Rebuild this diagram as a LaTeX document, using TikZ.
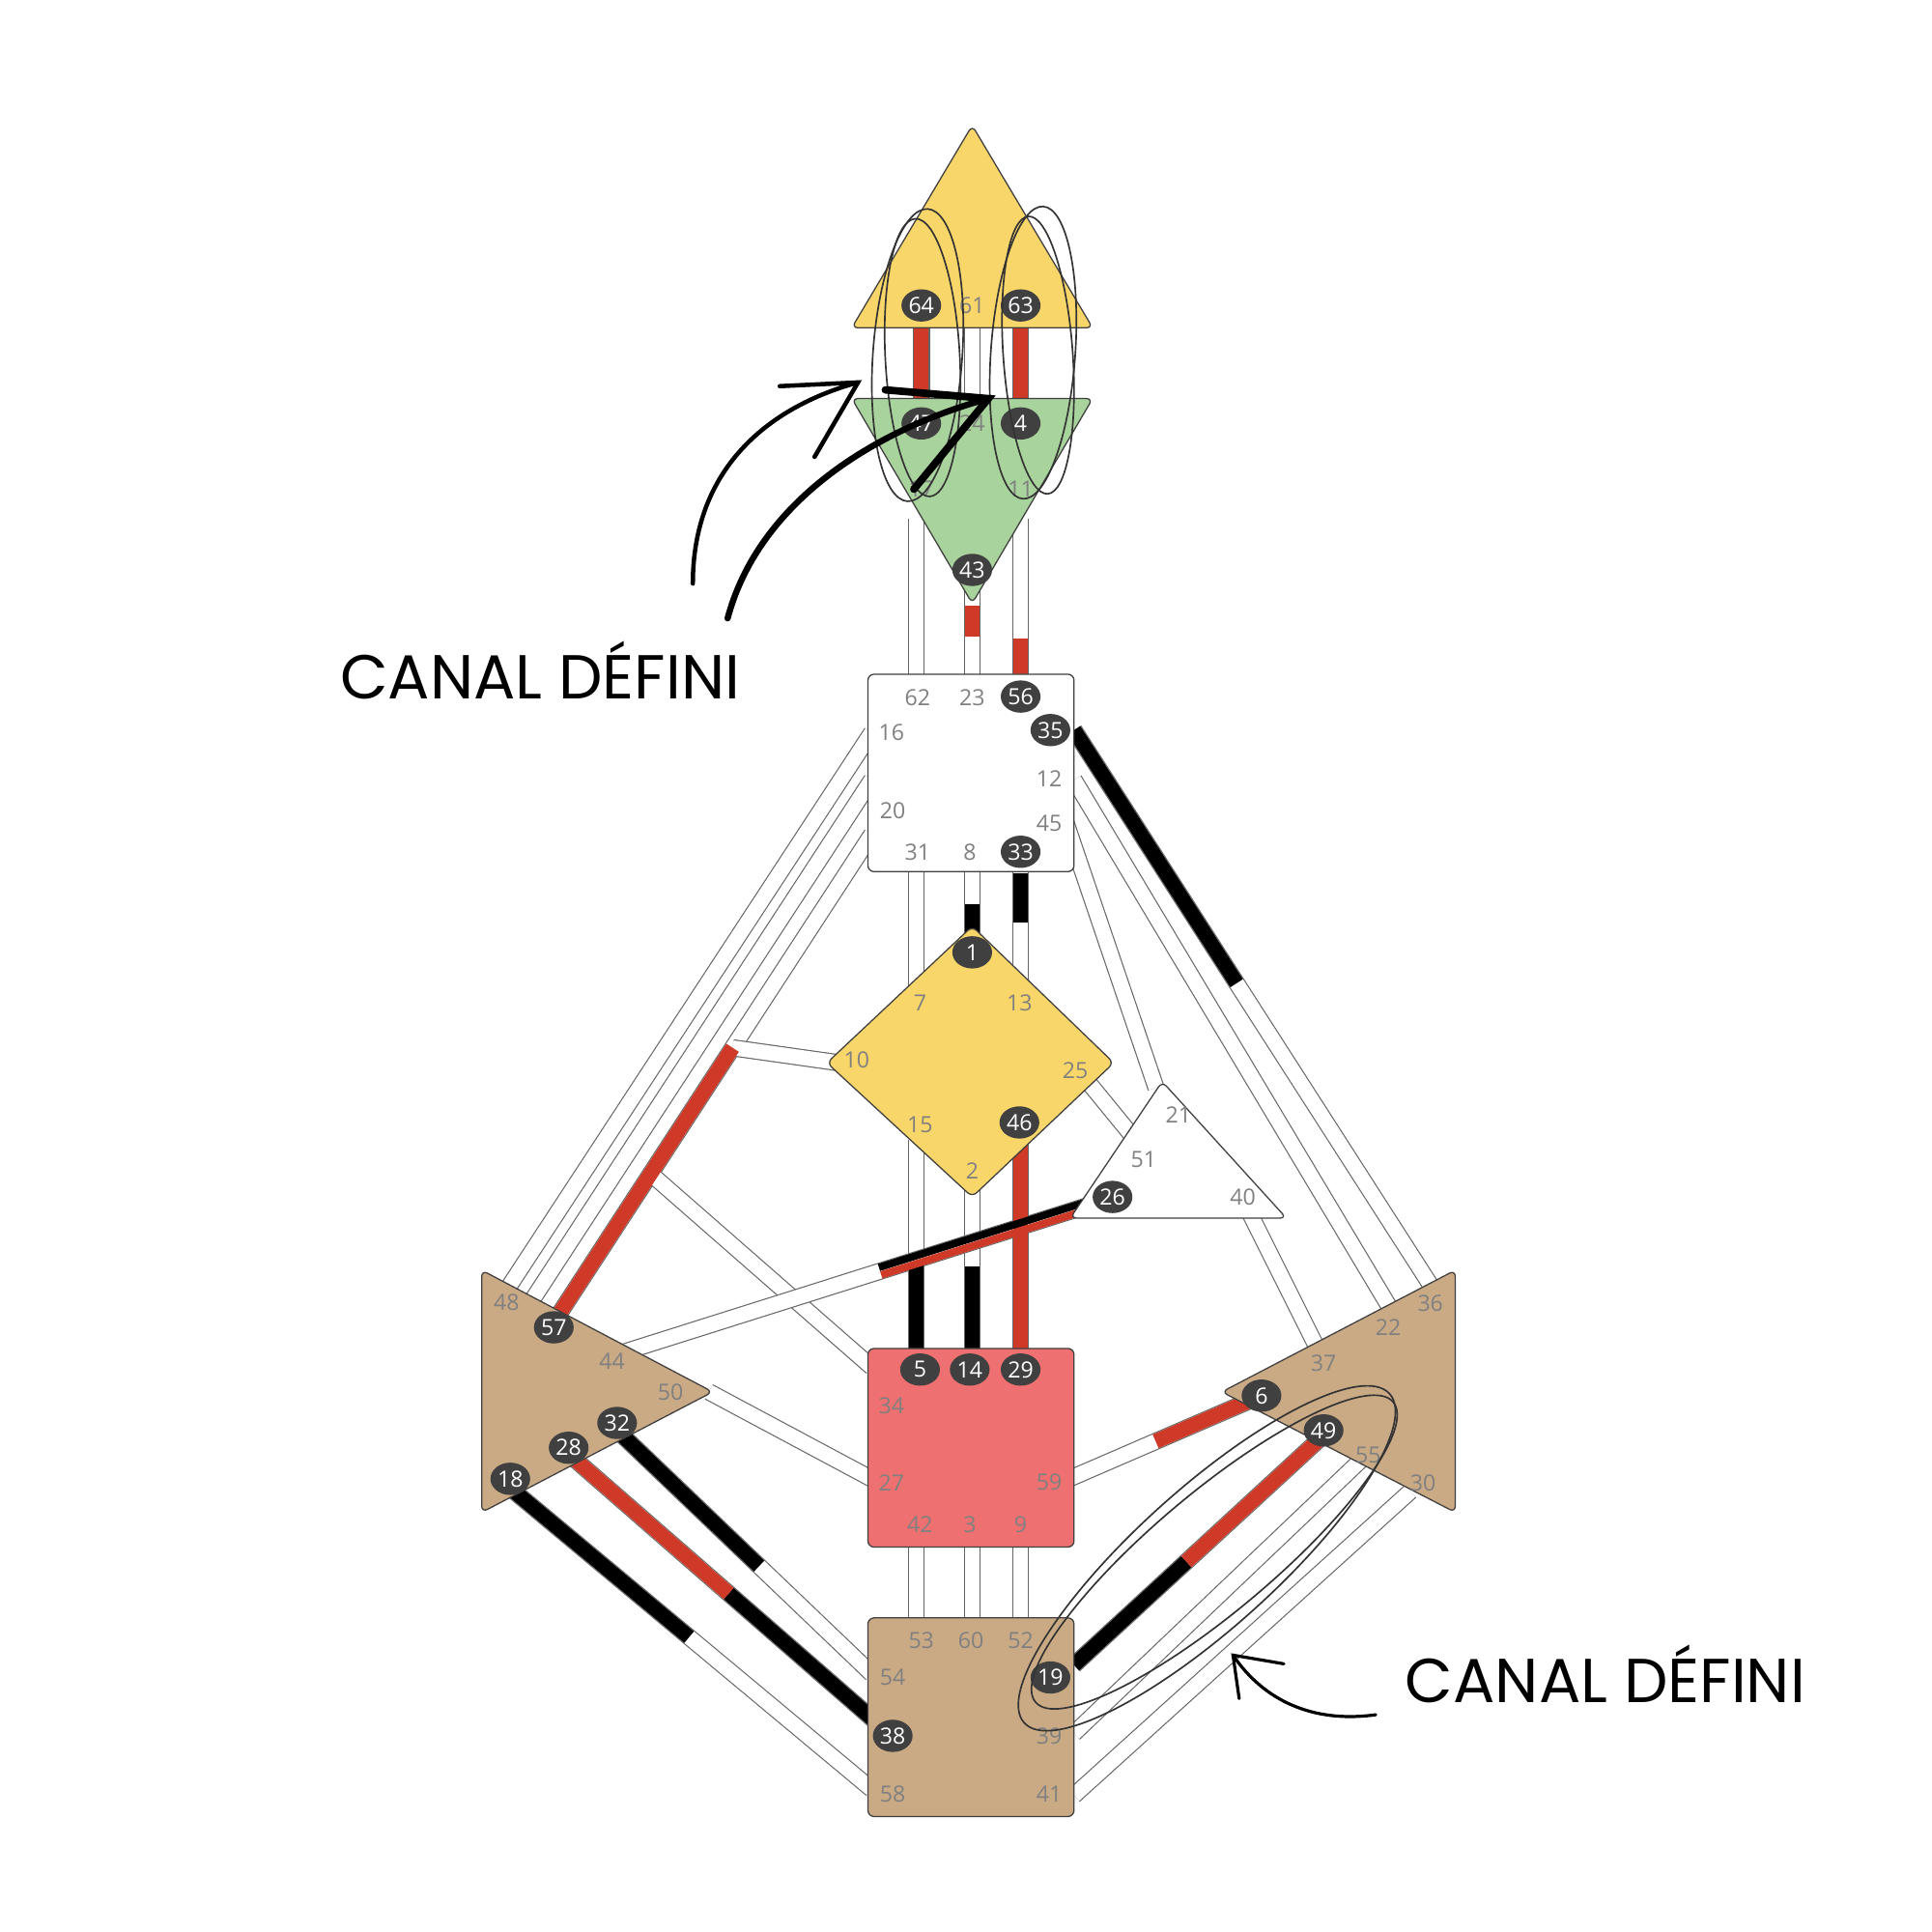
\documentclass[tikz,border=0pt]{standalone}
\usepackage{fontspec}
\setmainfont{Open Sans}
\newfontfamily\notefont{Poppins}
\usetikzlibrary{calc}
\definecolor{chred}{HTML}{CF3A28}
\definecolor{gatedark}{HTML}{404040}
\definecolor{headyel}{HTML}{F9D66A}
\definecolor{ajnagreen}{HTML}{A9D39C}
\definecolor{tan}{HTML}{CAAA84}
\definecolor{sacred}{HTML}{EE7070}
\definecolor{numgray}{HTML}{808080}

\tikzset{
  chan/.style={draw=gray!80!black, double=white, double distance=12pt, line width=0.9pt},
  redseg/.style={chred, line width=12pt},
  blackseg/.style={black, line width=12pt},
  center/.style={draw=black!75, line width=1pt, rounded corners=5pt},
  gate/.style={text=numgray, font=\fontsize{18}{18}\selectfont, inner sep=0pt},
  dgate/.style={ellipse, fill=gatedark, text=white, font=\fontsize{18}{18}\selectfont, inner sep=0pt, minimum width=32pt, minimum height=26pt},
  scribble/.style={draw=black!80, line width=1.3pt},
  note/.style={font=\notefont\fontsize{50}{50}\selectfont, text=black}
}
\usetikzlibrary{shapes.geometric}

\begin{document}
\begin{tikzpicture}[x=1pt,y=-1pt]
\useasboundingbox (0,0) rectangle (1556,1556);

%channel ends
\coordinate (c64) at (742,248); \coordinate (c47) at (742,343);
\coordinate (c61) at (783,248); \coordinate (c24) at (783,343);
\coordinate (c63) at (822,248); \coordinate (c4) at (822,343);
\coordinate (c17) at (738,418); \coordinate (c62) at (738,598);
\coordinate (c43) at (783,468); \coordinate (c23) at (783,558);
\coordinate (c11) at (822,418); \coordinate (c56) at (822,558);
\coordinate (c31) at (738,688); \coordinate (c7) at (738,798);
\coordinate (c8) at (783,688); \coordinate (c1) at (783,768);
\coordinate (c33) at (822,688); \coordinate (c13) at (822,798);
\coordinate (c15) at (738,918); \coordinate (c5) at (738,1098);
\coordinate (c2) at (783,948); \coordinate (c14) at (783,1098);
\coordinate (c46) at (822,903); \coordinate (c29) at (822,1098);
\coordinate (c42) at (738,1238); \coordinate (c53) at (738,1318);
\coordinate (c3) at (783,1238); \coordinate (c60) at (783,1318);
\coordinate (c9) at (822,1238); \coordinate (c52) at (822,1318);
\coordinate (c16) at (702,590); \coordinate (c48) at (410,1036);
\coordinate (c20) at (702,628); \coordinate (c57a) at (428,1048);
\coordinate (c20b) at (702,672); \coordinate (c57) at (444,1068);
\coordinate (c10) at (676,856); \coordinate (c34) at (702,1101);
\coordinate (c35) at (865,588); \coordinate (c36) at (1156,1041);
\coordinate (c12) at (865,628); \coordinate (c22) at (1121,1056);
\coordinate (c45) at (858,661); \coordinate (c21) at (931,876);
\coordinate (c25) at (876,871); \coordinate (c51) at (921,926);
\coordinate (c26) at (876,971); \coordinate (c44) at (496,1091);
\coordinate (c40) at (1006,976); \coordinate (c37) at (1066,1096);
\coordinate (c59) at (861,1191); \coordinate (c6) at (1016,1124);
\coordinate (c50) at (571,1121); \coordinate (c27) at (702,1191);
\coordinate (c18) at (408,1196); \coordinate (c58) at (702,1441);
\coordinate (c28) at (458,1171); \coordinate (c38) at (716,1396);
\coordinate (c32) at (496,1151); \coordinate (c54) at (702,1348);
\coordinate (c19) at (865,1341); \coordinate (c49) at (1066,1156);
\coordinate (c39) at (865,1396); \coordinate (c55) at (1096,1176);
\coordinate (c41) at (865,1446); \coordinate (c30) at (1136,1201);

%integration
\coordinate (j10) at ($(c20b)!0.434!(c57)$);
\coordinate (j34) at ($(c20b)!0.69!(c57)$);

%channels
\foreach \a/\b in {c64/c47,c61/c24,c63/c4,c17/c62,c43/c23,c11/c56,c31/c7,c8/c1,c33/c13,
  c15/c5,c2/c14,c46/c29,c42/c53,c3/c60,c9/c52,c16/c48,c20/c57a,c20b/c57,j10/c10,j34/c34,
  c35/c36,c12/c22,c45/c21,c25/c51,c26/c44,c40/c37,c59/c6,c50/c27,c18/c58,c28/c38,
  c32/c54,c19/c49,c39/c55,c41/c30}
  \draw[chan] (\a) -- (\b);

%activations
\draw[redseg] (c64) -- (c47);
\draw[redseg] (c63) -- (c4);
\draw[redseg] ($(c43)!0.22!(c23)$) -- ($(c43)!0.5!(c23)$);
\draw[redseg] ($(c11)!0.69!(c56)$) -- (c56);
\draw[blackseg] ($(c8)!0.5!(c1)$) -- (c1);
\draw[blackseg] ($(c33)!0.14!(c13)$) -- ($(c33)!0.5!(c13)$);
\draw[blackseg] ($(c15)!0.55!(c5)$) -- (c5);
\draw[blackseg] ($(c2)!0.48!(c14)$) -- (c14);
\draw[redseg] (c46) -- (c29);
\draw[blackseg] (c35) -- ($(c35)!0.45!(c36)$);
\draw[redseg] (j10) -- (c57);
\draw[blackseg, line width=6pt, transform canvas={shift={(-0.9,-3)}}] (c26) -- ($(c26)!0.44!(c44)$);
\draw[redseg, line width=6pt, transform canvas={shift={(0.9,3)}}] (c26) -- ($(c26)!0.44!(c44)$);
\draw[redseg] ($(c59)!0.45!(c6)$) -- (c6);
\draw[blackseg] (c18) -- ($(c18)!0.5!(c58)$);
\draw[redseg] (c28) -- ($(c28)!0.5!(c38)$);
\draw[blackseg] ($(c28)!0.5!(c38)$) -- (c38);
\draw[blackseg] (c32) -- ($(c32)!0.56!(c54)$);
\draw[blackseg] (c19) -- ($(c19)!0.45!(c49)$);
\draw[redseg] ($(c19)!0.45!(c49)$) -- (c49);

%centers
\draw[center, fill=headyel] (783,101) -- (880,264) -- (686,264) -- cycle;
\draw[center, fill=ajnagreen] (686,321) -- (880,321) -- (783,486) -- cycle;
\draw[center, fill=white] (699,543) rectangle (865,702);
\draw[center, fill=headyel] (783,746) -- (897,856) -- (783,964) -- (666,856) -- cycle;
\draw[center, fill=white] (936,871) -- (1036,981) -- (862,981) -- cycle;
\draw[center, fill=tan] (388,1023) -- (574,1121) -- (388,1218) -- cycle;
\draw[center, fill=tan] (1172,1023) -- (1172,1218) -- (984,1121) -- cycle;
\draw[center, fill=sacred] (699,1086) rectangle (865,1246);
\draw[center, fill=tan] (699,1303) rectangle (865,1463);

%gates
\foreach \n/\x/\y in {64/742/246,63/822/246,47/742/341,4/822/341,43/783/459,56/822/561,
  35/846/588,33/822/686,1/783/767,46/821/904,26/896/964,57/446/1069,32/497/1146,
  28/458/1166,18/411/1191,5/741/1103,14/781/1103,29/822/1103,6/1016/1124,49/1066/1152,
  19/846/1351,38/719/1398}
  \node[dgate] (g\n) at (\x,\y) {\n};
\foreach \n/\x/\y in {61/783/246,24/783/341,17/742/394,11/822/394,62/739/562,23/783/562,
  16/718/590,12/845/627,20/719/653,45/845/663,31/739/686,8/781/686,7/741/808,13/821/808,
  10/690/854,25/866/862,15/741/906,2/783/943,21/949/898,51/921/934,40/1001/964,48/408/1049,
  44/493/1096,50/540/1121,34/718/1132,27/718/1194,59/845/1194,42/741/1228,3/781/1228,
  9/822/1228,36/1152/1050,22/1118/1069,37/1066/1098,55/1102/1172,30/1146/1194,53/742/1321,
  60/782/1321,52/822/1321,54/719/1351,39/845/1398,58/719/1445,41/845/1445}
  \node[gate] (g\n) at (\x,\y) {\n};

%scribbles
\draw[scribble] (739,286) ellipse [x radius=36, y radius=118, rotate=-4];
\draw[scribble] (743,288) ellipse [x radius=30, y radius=112, rotate=3];
\draw[scribble] (832,284) ellipse [x radius=34, y radius=118, rotate=-4];
\draw[scribble] (836,286) ellipse [x radius=28, y radius=112, rotate=4];
\draw[scribble] (972,1255) ellipse [x radius=198, y radius=56, rotate=42];
\draw[scribble] (978,1250) ellipse [x radius=188, y radius=48, rotate=40];

\node[note] (lbl1) at (435,540) {CANAL DÉFINI};
\node[note] (lbl2) at (1293,1348) {CANAL DÉFINI};
\coordinate (t1) at (691,308);
\coordinate (t2) at (796,321);
\coordinate (t3) at (993,1333);
\draw[line width=3.5pt, line cap=round] (558,470) .. controls (558,378) and (618,328) .. (t1);
\draw[line width=3.5pt, line cap=round] (628,311) -- (t1) -- (656,368);
\draw[line width=5pt, line cap=round] (586,498) .. controls (610,408) and (698,348) .. (t2);
\draw[line width=6pt, line cap=round] (713,314) -- (t2) -- (736,394);
\draw[line width=2.5pt, line cap=round] (1108,1381) .. controls (1058,1388) and (1018,1370) .. (t3);
\draw[line width=2.5pt, line cap=round] (1034,1340) -- (t3) -- (998,1368);
\end{tikzpicture}
\end{document}
